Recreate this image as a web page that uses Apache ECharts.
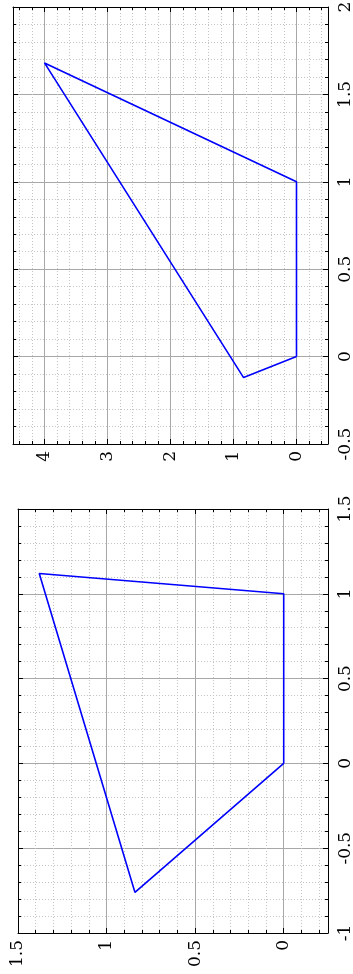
<!DOCTYPE html>
<html>
<head>
<meta charset="utf-8">
<script src="https://cdn.jsdelivr.net/npm/echarts@6/dist/echarts.min.js"></script>
<style>
  html, body { margin: 0; padding: 0; background: #ffffff; }
  #chart { width: 353px; height: 974px; }
</style>
</head>
<body>
<div id="chart"></div>
<script>
// Quadrilateral A (lower panel): vertices, closed back to the origin
const quadA_x = [0, 1, 1.12, -0.76, 0];
const quadA_y = [0, 0, 1.38, 0.84, 0];

// Quadrilateral B (upper panel): vertices, closed back to the origin
const quadB_x = [0, 1, 1.68, -0.12, 0];
const quadB_y = [0, 0, 4.0, 0.84, 0];

// Axis ranges as [min, max, major step]
const rangeA_x = [-1, 1.5, 0.5];
const rangeA_y = [-0.25, 1.5, 0.5];
const rangeB_x = [-0.5, 2, 0.5];
const rangeB_y = [-0.5, 4.5, 1];

// Minor subdivisions between major ticks
const MINOR_SPLIT = 5;

const FONT = 'DejaVu Serif';
const INK = '#000000';
const MAJOR_GRID = '#a8a8a8';
const MINOR_GRID = '#c4c4c4';

// Both panels are turned a quarter turn: data x runs up the page,
// data y runs right-to-left.
function isOnStep(v, step) {
  const k = v / step;
  return Math.abs(k - Math.round(k)) < 1e-6;
}

function valueAxis(range, gridIndex, position, primary, inverse) {
  const [min, max, step] = range;
  return {
    type: 'value',
    gridIndex: gridIndex,
    position: position,
    inverse: inverse,
    min: min,
    max: max,
    minInterval: step,
    maxInterval: step,
    axisLine: { show: true, onZero: false, lineStyle: { color: INK, width: 1 } },
    axisTick: { show: true, inside: true, length: 5, lineStyle: { color: INK, width: 1 } },
    minorTick: { show: true, splitNumber: MINOR_SPLIT, length: 3, lineStyle: { color: INK, width: 1 } },
    axisLabel: {
      show: primary,
      rotate: 90,
      margin: position === 'right' ? 9 : 7,
      fontFamily: FONT,
      fontSize: 17,
      color: INK,
      showMinLabel: true,
      showMaxLabel: true,
      formatter: function (v) { return isOnStep(v, step) ? String(+v.toFixed(6)) : ''; }
    },
    splitLine: { show: primary, lineStyle: { color: MAJOR_GRID, width: 1 } },
    minorSplitLine: { show: primary, lineStyle: { color: MINOR_GRID, width: 1, type: [1, 2] } }
  };
}

function outline(xs, ys, xi, yi) {
  return {
    type: 'line',
    xAxisIndex: xi,
    yAxisIndex: yi,
    data: ys.map((y, i) => [y, xs[i]]),
    symbol: 'none',
    showSymbol: false,
    clip: true,
    z: 10,
    lineStyle: { color: '#0000ff', width: 1.6 },
    itemStyle: { color: '#0000ff' }
  };
}

const chart = echarts.init(document.getElementById('chart'), null, { renderer: 'canvas' });

chart.setOption({
  animation: false,
  backgroundColor: '#ffffff',
  grid: [
    { left: 13, top: 7, width: 315, height: 437, containLabel: false, outerBoundsMode: 'none' },
    { left: 18, top: 509, width: 310, height: 424, containLabel: false, outerBoundsMode: 'none' }
  ],
  xAxis: [
    valueAxis(rangeB_y, 0, 'bottom', true, true),
    valueAxis(rangeB_y, 0, 'top', false, true),
    valueAxis(rangeA_y, 1, 'bottom', true, true),
    valueAxis(rangeA_y, 1, 'top', false, true)
  ],
  yAxis: [
    valueAxis(rangeB_x, 0, 'right', true, false),
    valueAxis(rangeB_x, 0, 'left', false, false),
    valueAxis(rangeA_x, 1, 'right', true, false),
    valueAxis(rangeA_x, 1, 'left', false, false)
  ],
  series: [
    outline(quadB_x, quadB_y, 0, 0),
    outline(quadA_x, quadA_y, 2, 2)
  ]
});
</script>
</body>
</html>
